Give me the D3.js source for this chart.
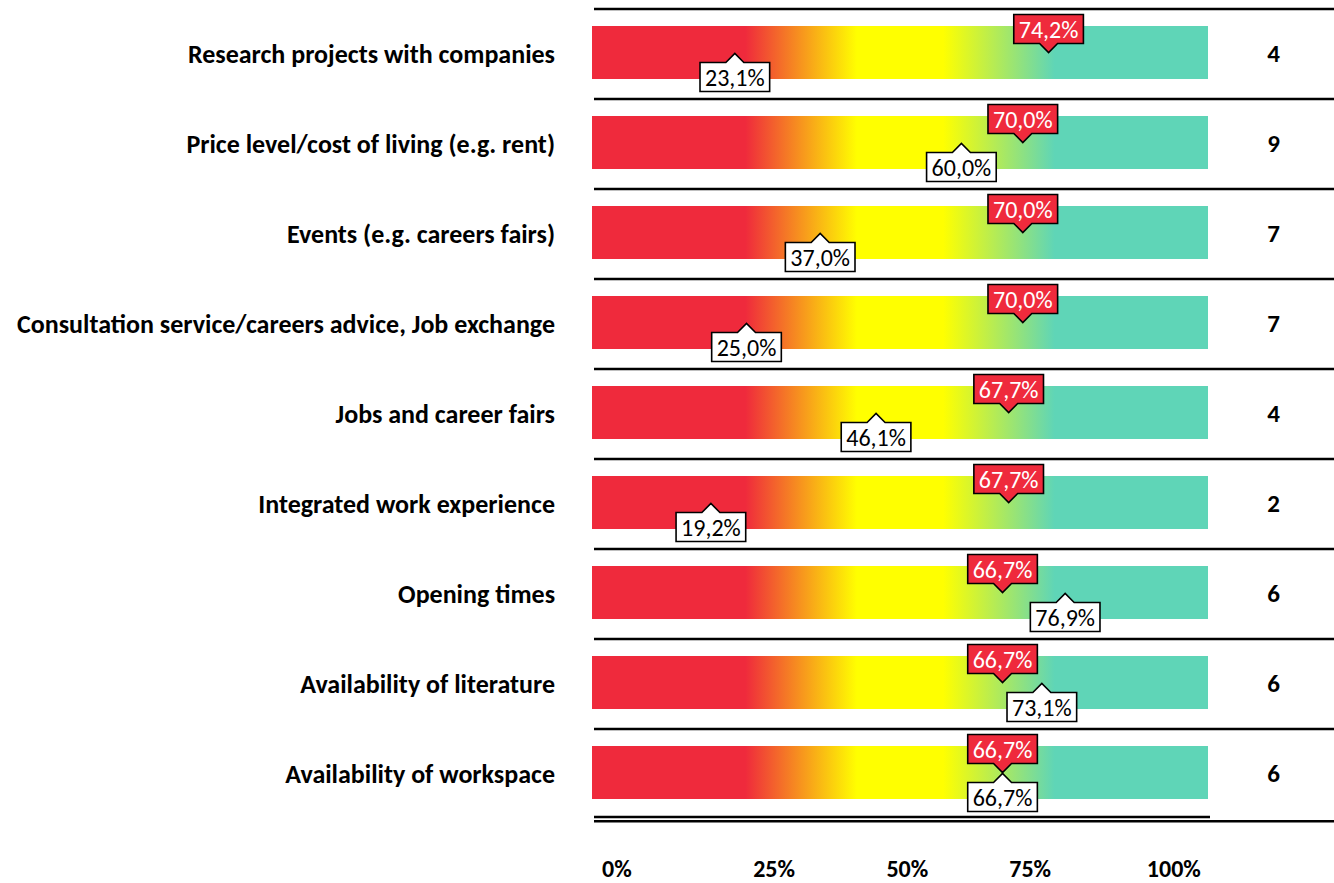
<!DOCTYPE html>
<html>
<head>
<meta charset="utf-8">
<script src="https://cdn.jsdelivr.net/npm/d3@7"></script>
<style>
  html, body { margin: 0; padding: 0; background: #fff; }
  svg { display: block; }
  text { font-family: Carlito, Lato, "Open Sans", sans-serif; }
</style>
</head>
<body>
<svg id="chart" width="1334" height="883"></svg>
<script>
// ---------- data ----------
const categories = [
  "Research projects with companies",
  "Price level/cost of living (e.g. rent)",
  "Events (e.g. careers fairs)",
  "Consultation service/careers advice, Job exchange",
  "Jobs and career fairs",
  "Integrated work experience",
  "Opening times",
  "Availability of literature",
  "Availability of workspace"
];
const topValues = [74.2, 70.0, 70.0, 70.0, 67.7, 67.7, 66.7, 66.7, 66.7];     // red markers
const bottomValues = [23.1, 60.0, 37.0, 25.0, 46.1, 19.2, 76.9, 73.1, 66.7];  // white markers
const counts = [4, 9, 7, 7, 4, 2, 6, 6, 6];
const tickLabels = ["0%", "25%", "50%", "75%", "100%"];
const tickAt = [3.9, 29.5, 51.2, 71.2, 94.6];
const zoneStops = [0, 24.8, 43, 57, 75.2, 100];

// ---------- styles ----------
const RED = "#EF2A3C", YELLOW = "#FFFF00", TEAL = "#5FD5B7";
const zoneColors = [RED, RED, YELLOW, YELLOW, TEAL, TEAL];

const svg = d3.select("#chart");
const W = 1334;
const x = d3.scaleLinear().domain([0, 100]).range([593, 1207]);
const y = d3.scaleBand().domain(categories).range([9, 819]);
const barOffset = 17, barH = 53;
const fmtNum = d3.formatLocale({decimal: ",", thousands: ".", grouping: [3], currency: ["", "€"]}).format(".1f");
const fmt = v => fmtNum(v) + "%";

// gradient
const defs = svg.append("defs");
const grad = defs.append("linearGradient").attr("id", "zones")
  .attr("gradientUnits", "userSpaceOnUse")
  .attr("x1", x(0)).attr("x2", x(100)).attr("y1", 0).attr("y2", 0);
grad.selectAll("stop").data(zoneStops).join("stop")
  .attr("offset", d => (x(d) - x(0)) / (x(100) - x(0)))
  .attr("stop-color", (d, i) => zoneColors[i]);

const rows = categories.map((c, i) => ({c, top: topValues[i], bottom: bottomValues[i], n: counts[i]}));

// separators
svg.append("g").selectAll("line").data(categories).join("line")
  .attr("x1", 594).attr("x2", W)
  .attr("y1", d => y(d)).attr("y2", d => y(d))
  .attr("stroke", "#000").attr("stroke-width", 2.6);
const yEnd = y.range()[1];
svg.append("line").attr("x1", 594).attr("x2", 1210).attr("y1", yEnd - 2).attr("y2", yEnd - 2)
  .attr("stroke", "#000").attr("stroke-width", 2.4);
svg.append("line").attr("x1", 594).attr("x2", W).attr("y1", yEnd + 2.2).attr("y2", yEnd + 2.2)
  .attr("stroke", "#000").attr("stroke-width", 2.4);

// bars
svg.append("g").selectAll("rect").data(rows).join("rect")
  .attr("x", x(0) - 1).attr("width", x(100) - x(0) + 2)
  .attr("y", d => y(d.c) + barOffset).attr("height", barH)
  .attr("fill", "url(#zones)");

// category labels
svg.append("g").selectAll("text").data(rows).join("text")
  .attr("x", 555).attr("y", d => y(d.c) + barOffset + barH / 2 + 1)
  .attr("dy", "0.35em").attr("text-anchor", "end")
  .attr("font-weight", "bold").attr("font-size", 26).attr("fill", "#000")
  .text(d => d.c);

// counts
svg.append("g").selectAll("text").data(rows).join("text")
  .attr("x", 1273.5).attr("y", d => y(d.c) + barOffset + barH / 2 + 1)
  .attr("dy", "0.35em").attr("text-anchor", "middle")
  .attr("font-weight", "bold").attr("font-size", 25).attr("fill", "#000")
  .text(d => d.n);

// markers
const boxH = 29, ptr = 9, half = 9;
function marker(g, d, v, up) {
  const cx = x(v), cy = y(d.c) + barOffset + barH / 2;
  const t = g.append("text")
    .attr("x", cx).attr("text-anchor", "middle")
    .attr("font-size", 24).attr("fill", up ? "#fff" : "#000")
    .text(fmt(v));
  const w = t.node().getComputedTextLength() + 10;
  const l = cx - w / 2, r = cx + w / 2;
  let p;
  if (up) {
    const bot = cy - ptr, top = bot - boxH;
    p = `M${l},${top}H${r}V${bot}H${cx + half}L${cx},${cy}L${cx - half},${bot}H${l}Z`;
    t.attr("y", bot - 5.5);
  } else {
    const top = cy + ptr + 1, bot = top + boxH;
    p = `M${l},${bot}H${r}V${top}H${cx + half}L${cx},${cy + 1}L${cx - half},${top}H${l}Z`;
    t.attr("y", bot - 5.5);
  }
  g.insert("path", "text").attr("d", p)
    .attr("fill", up ? RED : "#fff").attr("stroke", "#000").attr("stroke-width", 1.6)
    .attr("stroke-linejoin", "miter");
}
const mg = svg.append("g");
rows.forEach(d => {
  marker(mg.append("g"), d, d.bottom, false);
  marker(mg.append("g"), d, d.top, true);
});

// tick labels
svg.append("g").selectAll("text").data(tickLabels).join("text")
  .attr("x", (d, i) => x(tickAt[i])).attr("y", 877)
  .attr("text-anchor", "middle").attr("font-weight", "bold").attr("font-size", 24)
  .attr("fill", "#000")
  .text(d => d);
</script>
</body>
</html>
